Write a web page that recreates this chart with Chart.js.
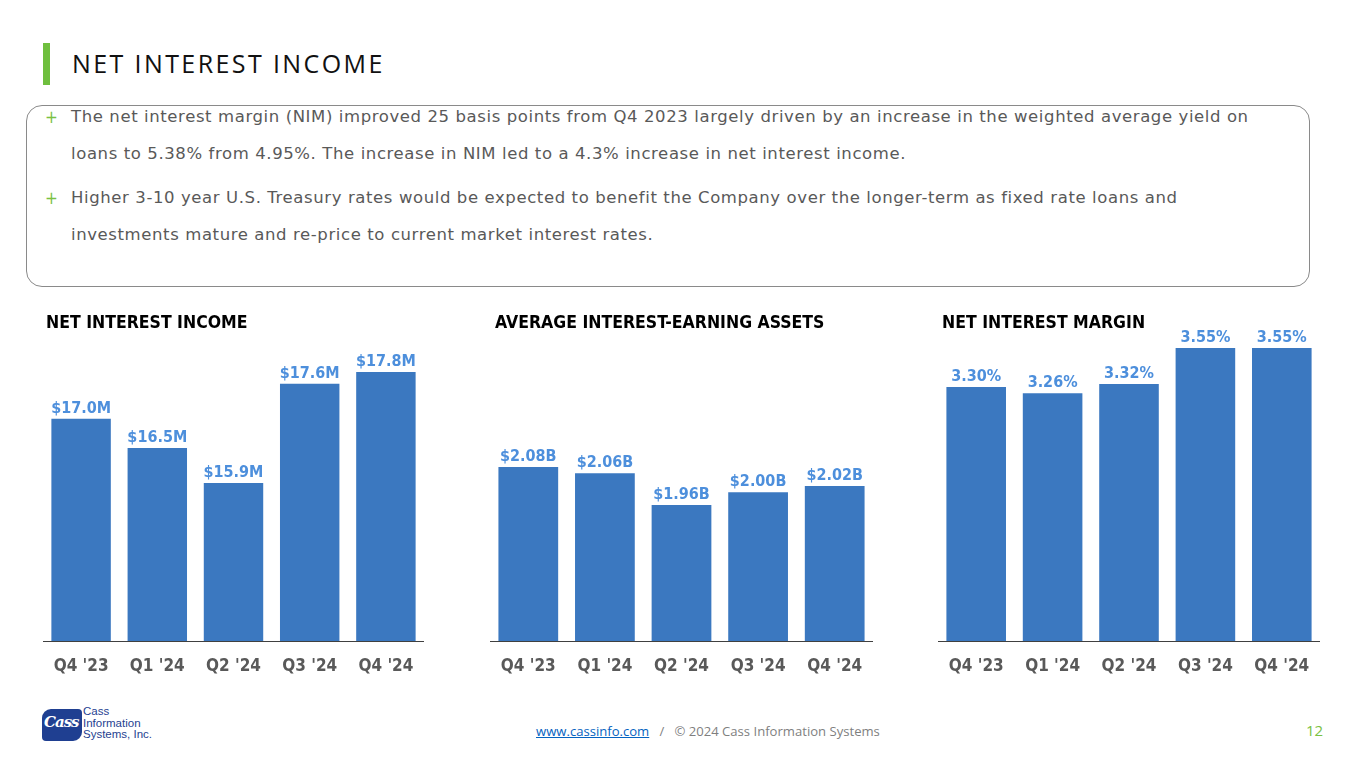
<!DOCTYPE html>
<html>
<head>
<meta charset="utf-8">
<script src="https://cdn.jsdelivr.net/npm/chart.js@4.4.0/dist/chart.umd.min.js"></script>
<style>
body { margin: 0; width: 1365px; height: 768px; background: #fff; position: relative; overflow: hidden;
       font-family: "DejaVu Sans Condensed", "DejaVu Sans", sans-serif; }
.abs { position: absolute; }
#bar { left: 43px; top: 43px; width: 7px; height: 42px; background: #6fbf3e; }
#title { left: 72px; top: 46px; font-family: "Open Sans", sans-serif; font-size: 25px; letter-spacing: 2.4px; color: #111; white-space: nowrap; }
#box { left: 26px; top: 105px; width: 1282px; height: 180px; border: 1.5px solid #8a8a8a; border-radius: 16px; }
.line { position: absolute; left: 71px; font-family: "DejaVu Sans", sans-serif; font-size: 16.5px; letter-spacing: 0.6px; color: #595959; white-space: nowrap; }
.plus { position: absolute; left: 45px; font-size: 17px; color: #7ac143; }
.ctitle { position: absolute; font-size: 17.5px; font-weight: bold; color: #000; white-space: nowrap; z-index: 2; }
canvas { position: absolute; }
#foot { left: 536px; top: 722px; font-family: "Open Sans", sans-serif; font-size: 13.1px; color: #7f7f7f; white-space: nowrap; }
#foot a { color: #0563c1; text-decoration: underline; }
#page { left: 1306px; top: 720px; font-family: "Open Sans", sans-serif; font-size: 15px; color: #7ac143; }
#logo { left: 42px; top: 709px; width: 40px; height: 32px; background: #1f3f91; border-radius: 9px 4px 9px 4px; }
#logo span { position: absolute; left: 2px; top: 4px; font-family: "DejaVu Serif", serif; font-style: italic; font-weight: bold; font-size: 15px; color: #fff; letter-spacing: -1px; }
#logotext { left: 83px; top: 706px; font-family: "Liberation Sans", sans-serif; font-size: 11.5px; line-height: 11.5px; color: #1f3f91; }
</style>
</head>
<body>
<div id="bar" class="abs"></div>
<div id="title" class="abs">NET INTEREST INCOME</div>
<div id="box" class="abs"></div>
<div class="plus" style="top:107px">+</div>
<div class="line" style="top:107px">The net interest margin (NIM) improved 25 basis points from Q4 2023 largely driven by an increase in the weighted average yield on</div>
<div class="line" style="top:144px">loans to 5.38% from 4.95%. The increase in NIM led to a 4.3% increase in net interest income.</div>
<div class="plus" style="top:188px">+</div>
<div class="line" style="top:188px">Higher 3-10 year U.S. Treasury rates would be expected to benefit the Company over the longer-term as fixed rate loans and</div>
<div class="line" style="top:225px">investments mature and re-price to current market interest rates.</div>

<div class="ctitle" style="left:46px;top:312px">NET INTEREST INCOME</div>
<div class="ctitle" style="left:495px;top:312px">AVERAGE INTEREST-EARNING ASSETS</div>
<div class="ctitle" style="left:942px;top:312px">NET INTEREST MARGIN</div>

<canvas id="c1" width="381" height="390" style="left:43px;top:300px"></canvas>
<canvas id="c2" width="383" height="390" style="left:490px;top:300px"></canvas>
<canvas id="c3" width="382" height="390" style="left:938px;top:300px"></canvas>

<div id="logo" class="abs"><span>Cass</span></div>
<div id="logotext" class="abs">Cass<br>Information<br>Systems, Inc.</div>
<div id="foot" class="abs"><a>www.cassinfo.com</a>&nbsp;&nbsp; / &nbsp;&nbsp;© 2024 Cass Information Systems</div>
<div id="page" class="abs">12</div>

<script>
var quarters = ["Q4 '23", "Q1 '24", "Q2 '24", "Q3 '24", "Q4 '24"];
var netIncome = [17.0, 16.5, 15.9, 17.6, 17.8];
var avgAssets = [2.08, 2.06, 1.96, 2.00, 2.02];
var netMargin = [3.30, 3.26, 3.32, 3.55, 3.55];

var fontFamily = '"DejaVu Sans Condensed", "DejaVu Sans", sans-serif';

function labelPlugin(fmt) {
    return {
        id: 'barLabels',
        afterDatasetsDraw: function (chart) {
            var ctx = chart.ctx;
            var meta = chart.getDatasetMeta(0);
            var data = chart.data.datasets[0].data;
            ctx.save();
            ctx.font = 'bold 16px ' + fontFamily;
            ctx.fillStyle = '#4d8fdc';
            ctx.textAlign = 'center';
            ctx.textBaseline = 'alphabetic';
            meta.data.forEach(function (bar, i) {
                ctx.fillText(fmt(data[i]), bar.x, bar.y - 6);
            });
            ctx.restore();
        }
    };
}

function makeChart(id, values, min, max, fmt) {
    var ctx = document.getElementById(id).getContext('2d');
    return new Chart(ctx, {
        type: 'bar',
        data: {
            labels: quarters,
            datasets: [{
                data: values,
                backgroundColor: '#3b78c0',
                borderWidth: 0,
                barPercentage: 0.78,
                categoryPercentage: 1
            }]
        },
        options: {
            responsive: false,
            animation: false,
            layout: { padding: 0 },
            plugins: { legend: { display: false }, tooltip: { enabled: false } },
            scales: {
                x: {
                    grid: { display: false, drawTicks: false },
                    border: { display: true, color: '#404040', width: 1 },
                    ticks: { color: '#595959', font: { family: fontFamily, size: 17, weight: 'bold' }, padding: 15 },
                    afterFit: function (scale) {
                        scale.height = 49;
                        scale.paddingLeft = 0;
                        scale.paddingRight = 0;
                    }
                },
                y: { display: false, min: min, max: max }
            }
        },
        plugins: [labelPlugin(fmt)]
    });
}

makeChart('c1', netIncome, 13.2, 19.03, function (v) { return '$' + v.toFixed(1) + 'M'; });
makeChart('c2', avgAssets, 1.531, 2.607, function (v) { return '$' + v.toFixed(2) + 'B'; });
makeChart('c3', netMargin, 1.672, 3.858, function (v) { return v.toFixed(2) + '%'; });
</script>
</body>
</html>
